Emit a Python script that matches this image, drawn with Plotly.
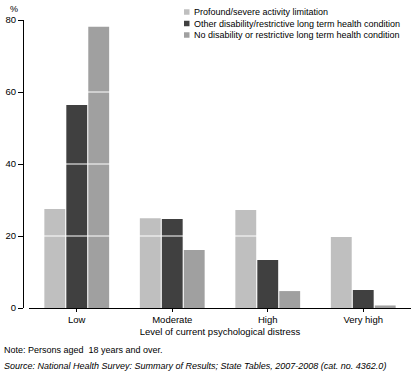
import plotly.graph_objects as go

categories = ["Low", "Moderate", "High", "Very high"]
profound = [27.5, 24.9, 27.2, 19.7]
other = [56.4, 24.7, 13.3, 5.0]
none_ = [78.1, 16.1, 4.7, 0.7]
series_names = [
    "Profound/severe activity limitation",
    "Other disability/restrictive long term health condition",
    "No disability or restrictive long term health condition",
]
colors = ["#bfbfbf", "#404040", "#a0a0a0"]
y_ticks = [0, 20, 40, 60, 80]

FONT = "Liberation Sans Narrow, Liberation Sans, Arial"

fig = go.Figure()
for name, vals, col in zip(series_names, [profound, other, none_], colors):
    fig.add_trace(go.Bar(x=categories, y=vals, name=name, marker_color=col,
                         marker_line_width=0, showlegend=False))

W, H = 416, 378
ML, MR, MT, MB = 23, 5, 20, 70
PW, PH = W - ML - MR, H - MT - MB

def px(x):
    return (x - ML) / PW

def py(y):
    return (H - MB - y) / PH

shapes = [dict(type="line", xref="x domain", yref="y", x0=0, x1=1, y0=v, y1=v,
               line=dict(color="white", width=1), layer="above")
          for v in y_ticks[1:-1]]

annotations = []
leg_y = [12, 23.5, 35]
for name, col, yy in zip(series_names, colors, leg_y):
    shapes.append(dict(type="rect", xref="paper", yref="paper",
                       x0=px(184), x1=px(189.5), y0=py(yy + 2.75), y1=py(yy - 2.75),
                       fillcolor=col, line=dict(width=0)))
    annotations.append(dict(text=name, xref="paper", yref="paper", x=px(192), y=py(yy),
                            xanchor="left", yanchor="middle", showarrow=False,
                            font=dict(size=9)))

annotations += [
    dict(text="%", xref="paper", yref="paper", x=px(8), y=py(9),
         xanchor="left", yanchor="middle", showarrow=False, font=dict(size=9)),
    dict(text="Note: Persons aged  18 years and over.", xref="paper", yref="paper",
         x=px(2), y=py(350), xanchor="left", yanchor="middle", showarrow=False,
         font=dict(size=9)),
    dict(text="<i>Source: National Health Survey: Summary of Results; State Tables, 2007-2008 (cat. no. 4362.0)</i>",
         xref="paper", yref="paper", x=px(2), y=py(366), xanchor="left",
         yanchor="middle", showarrow=False, font=dict(size=9)),
]

fig.update_layout(
    template="none",
    width=W, height=H,
    margin=dict(l=ML, r=MR, t=MT, b=MB),
    paper_bgcolor="white", plot_bgcolor="white",
    font=dict(family=FONT, size=9, color="black"),
    barmode="group", bargap=0.31, bargroupgap=0.05,
    showlegend=False,
    xaxis=dict(domain=[px(29), 1], showline=True, linecolor="black", linewidth=1,
               ticks="outside", ticklen=3, tickcolor="black", showgrid=False,
               automargin=False, tickfont=dict(size=9.5),
               title=dict(text="Level of current psychological distress",
                          font=dict(size=9.5), standoff=3),
               anchor="y"),
    yaxis=dict(range=[0, 80], tickvals=y_ticks, showgrid=False,
               showline=True, linecolor="black", linewidth=1,
               ticks="outside", ticklen=5, tickcolor="black", automargin=False,
               tickfont=dict(size=9.5),
               anchor="free", position=0, zeroline=False),
    shapes=shapes,
    annotations=annotations,
)
fig.write_html("out.html", config={"displayModeBar": False},
               post_script="document.body.style.margin='0';document.body.style.overflow='hidden';")
